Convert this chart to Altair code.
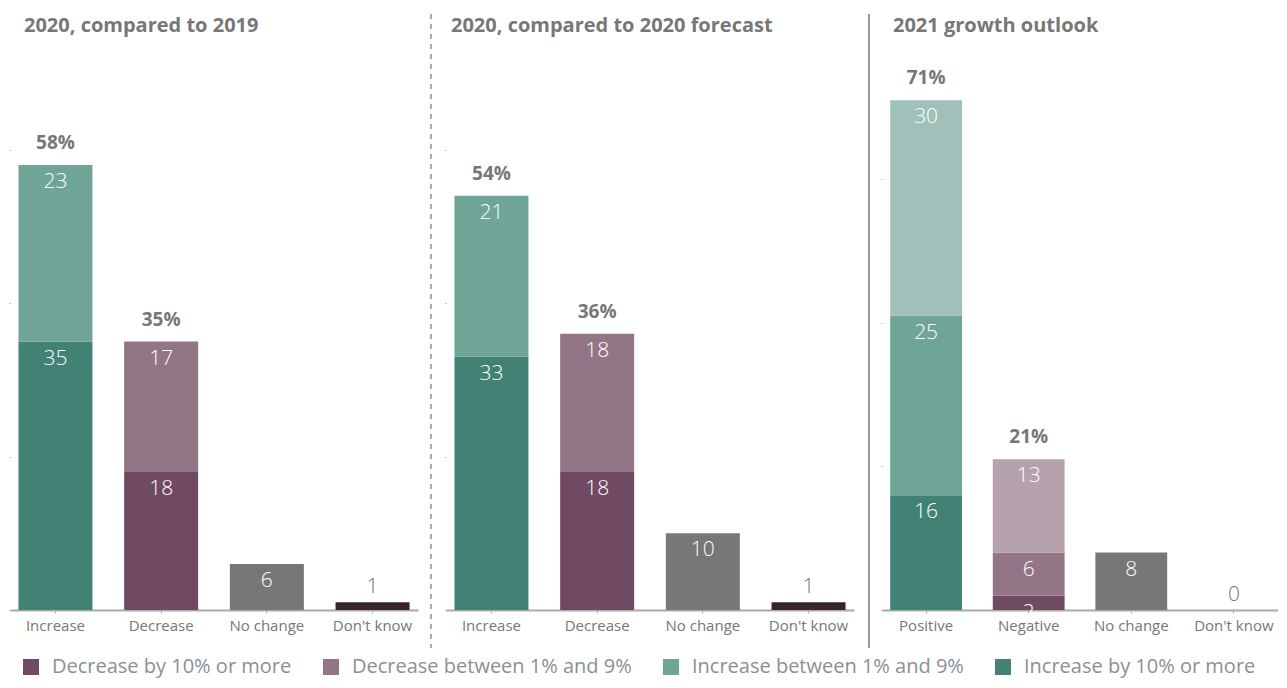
import altair as alt
import pandas as pd

FONT = "Open Sans"

panel_titles = ["2020, compared to 2019", "2020, compared to 2020 forecast", "2021 growth outlook"]
panel_cats = [
    ["Increase", "Decrease", "No change", "Don't know"],
    ["Increase", "Decrease", "No change", "Don't know"],
    ["Positive", "Negative", "No change", "Don't know"],
]

# segments per panel: (category, segment key, value) bottom -> top
seg_cats = [
    ["Increase", "Increase", "Decrease", "Decrease", "No change", "Don't know"],
    ["Increase", "Increase", "Decrease", "Decrease", "No change", "Don't know"],
    ["Positive", "Positive", "Positive", "Negative", "Negative", "Negative", "No change", "Don't know"],
]
seg_keys = [
    ["Increase by 10% or more", "Increase between 1% and 9%", "Decrease by 10% or more",
     "Decrease between 1% and 9%", "No change", "Don't know"],
    ["Increase by 10% or more", "Increase between 1% and 9%", "Decrease by 10% or more",
     "Decrease between 1% and 9%", "No change", "Don't know"],
    ["Increase by 10% or more", "Increase between 1% and 9%", "Increase (light)",
     "Decrease by 10% or more", "Decrease between 1% and 9%", "Decrease (light)", "No change", "Don't know"],
]
seg_values = [
    [35, 23, 18, 17, 6, 1],
    [33, 21, 18, 18, 10, 1],
    [16, 25, 30, 2, 6, 13, 8, 0],
]
y_max = [73, 73, 78]
y_ticks = [0, 20, 40, 60]
widths = [408, 408, 396]
title_dx = [14, 5, 11]
sep_dx = [13, 15]

color_domain = ["Decrease by 10% or more", "Decrease between 1% and 9%", "Increase between 1% and 9%",
                "Increase by 10% or more", "Increase (light)", "Decrease (light)", "No change", "Don't know"]
color_range = ["#6f4a62", "#937686", "#6fa596", "#428275", "#a0c1b9", "#b6a2ad", "#777777", "#3a2331"]
legend_values = color_domain[:4]

H = 560

panels = []
for p in range(3):
    W = widths[p]
    rows = []
    cum = {}
    for i, (c, k, v) in enumerate(zip(seg_cats[p], seg_keys[p], seg_values[p])):
        cum[c] = cum.get(c, 0) + v
        rows.append({"cat": c, "seg": k, "value": v, "order": i, "top": cum[c]})
    df = pd.DataFrame(rows)
    totals = pd.DataFrame([{"cat": c, "total": t, "label": f"{t}%"} for c, t in cum.items()
                           if c in panel_cats[p][:2]])
    tdf = pd.DataFrame({"t": [panel_titles[p]]})

    x = alt.X("cat:N", sort=panel_cats[p], title=None,
              scale=alt.Scale(paddingInner=0.3, paddingOuter=0.08),
              axis=alt.Axis(labelAngle=0, labelFontSize=15, labelColor="#777777", labelFont=FONT,
                            domainColor="#aaaaaa", domainWidth=2, tickColor="#aaaaaa", tickSize=3,
                            labelPadding=5))
    yscale = alt.Scale(domain=[0, y_max[p]], nice=False)
    yaxis = alt.Axis(labels=False, domain=False, grid=False, title=None, values=y_ticks,
                     tickSize=1, tickColor="#999999")

    base = alt.Chart(df)
    bars = base.mark_bar().encode(
        x=x,
        y=alt.Y("value:Q", stack="zero", scale=yscale, axis=yaxis),
        color=alt.Color("seg:N", scale=alt.Scale(domain=color_domain, range=color_range),
                        legend=alt.Legend(values=legend_values, title=None, orient="none",
                                          direction="horizontal", legendX=11, legendY=607)),
        order=alt.Order("order:Q"),
    )
    seg_text = base.transform_filter(alt.datum.cat != "Don't know").mark_text(
        color="white", fontSize=21, fontWeight=300, font=FONT, dy=17, baseline="middle"
    ).encode(x=x, y=alt.Y("top:Q", scale=yscale), text="value:Q")
    dk_text = base.transform_filter(alt.datum.cat == "Don't know").mark_text(
        color="#777777", fontSize=21, fontWeight=300, font=FONT, dy=-15, baseline="middle"
    ).encode(x=x, y=alt.Y("top:Q", scale=yscale), text="value:Q")
    tot_text = alt.Chart(totals).mark_text(
        color="#777777", fontSize=19, fontWeight="bold", font=FONT, dy=-22, baseline="middle"
    ).encode(x=x, y=alt.Y("total:Q", scale=yscale), text="label:N")
    title = alt.Chart(tdf).mark_text(
        color="#777777", fontSize=20, fontWeight="bold", font=FONT, align="left", baseline="middle"
    ).encode(x=alt.value(title_dx[p]), y=alt.value(-24), text="t:N")

    layers = [bars, seg_text, dk_text, tot_text, title]
    if p < 2:
        sep = alt.Chart(df).mark_rule(
            color="#aaaaaa" if p == 0 else "#999999",
            strokeWidth=1 if p == 0 else 2,
            strokeDash=[5, 5] if p == 0 else [1, 0],
        ).encode(x=alt.value(W + sep_dx[p]), y=alt.value(-36), y2=alt.value(H + 38))
        layers.append(sep)

    panel = alt.layer(*layers).properties(width=W, height=H)
    panels.append(panel)

chart = alt.hconcat(*panels, spacing=28, bounds="flush").properties(
    padding={"left": 0, "top": 5, "right": 0, "bottom": 2}
).configure_view(stroke=None).configure_legend(
    symbolType="square", symbolSize=256,
    symbolStrokeWidth=0, labelFontSize=20, labelColor="#8a9096", labelFont=FONT,
    columnPadding=29, labelOffset=11, padding=0, labelLimit=400,
)

chart.save("out.html", embed_options={"renderer": "svg", "actions": False})
